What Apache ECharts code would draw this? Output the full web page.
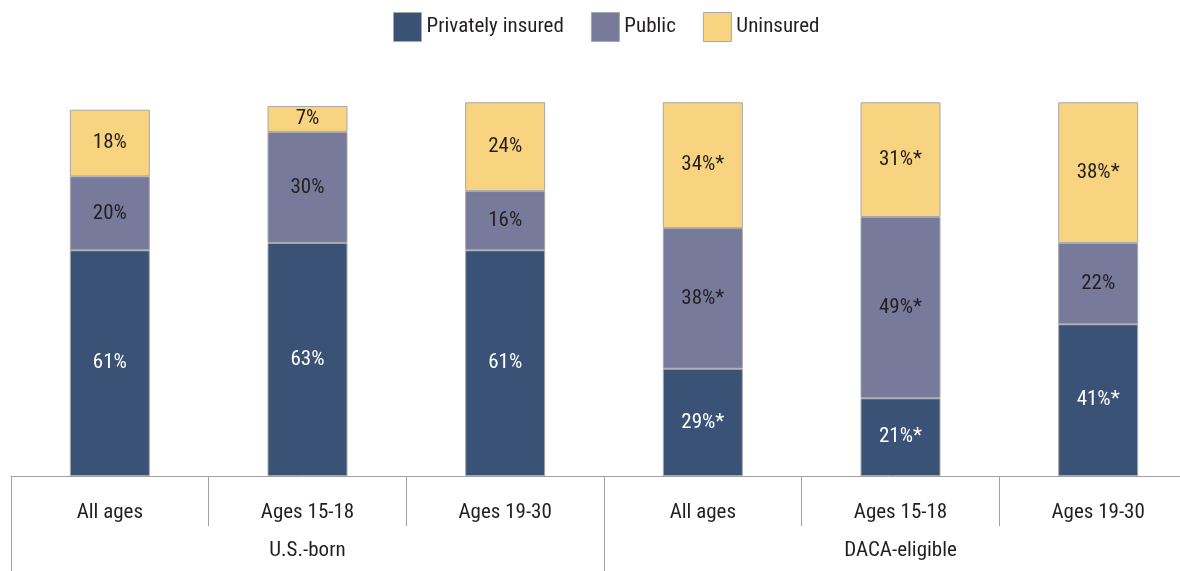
<!DOCTYPE html>
<html>
<head>
<meta charset="utf-8">
<script src="https://cdn.jsdelivr.net/npm/echarts@6/dist/echarts.min.js"></script>
<style>html,body{margin:0;padding:0;background:#fff}#c{width:1180px;height:571px}</style>
</head>
<body>
<div id="c"></div>
<script>
const categories = ['All ages', 'Ages 15-18', 'Ages 19-30', 'All ages', 'Ages 15-18', 'Ages 19-30'];
const groups = ['U.S.-born', 'DACA-eligible'];
const seriesNames = ['Privately insured', 'Public', 'Uninsured'];
const privateVals = [61, 63, 61, 29, 21, 41];
const publicVals = [20, 30, 16, 38, 49, 22];
const uninsuredVals = [18, 7, 24, 34, 31, 38];
const privateStar = [0, 0, 0, 1, 1, 1];
const publicStar = [0, 0, 0, 1, 1, 0];
const uninsuredStar = [0, 0, 0, 1, 1, 1];

const FONT = 'Roboto';
const STRETCH = 'condensed';
const colors = ['#3b5277', '#777a9a', '#f8d480'];
const textDark = '#231f20';

function mk(name, vals, stars, color, labelColor) {
  return {
    name: name,
    type: 'bar',
    stack: 'total',
    xAxisIndex: 0,
    barWidth: 80,
    data: vals,
    itemStyle: { color: color, borderColor: '#a8a8a8', borderWidth: 1 },
    label: {
      show: true,
      position: 'inside',
      color: labelColor,
      fontFamily: FONT,
      fontStyle: 'normal',
      fontWeight: STRETCH,
      fontSize: 21,
      formatter: p => p.value + '%' + (stars[p.dataIndex] ? '*' : '')
    },
    emphasis: { disabled: true },
    animation: false
  };
}

const txt = (size) => ({ fontFamily: FONT, fontStyle: 'normal', fontWeight: STRETCH, fontSize: size, color: textDark });

const chart = echarts.init(document.getElementById('c'), null, { renderer: 'canvas' });
chart.setOption({
  animation: false,
  color: colors,
  legend: {
    top: 7,
    left: 388,
    itemWidth: 28,
    itemHeight: 29,
    itemGap: 27,
    data: seriesNames.map(n => ({ name: n, icon: 'rect' })),
    itemStyle: { borderColor: '#a8a8a8', borderWidth: 1 },
    textStyle: Object.assign(txt(21), { padding: [0, 0, 0, 0] }),
    selectedMode: false
  },
  grid: { left: 11, width: 1186, bottom: 95, top: 69, outerBoundsMode: 'none', containLabel: false },
  xAxis: [
    {
      type: 'category',
      data: categories,
      position: 'bottom',
      axisLine: { show: true, lineStyle: { color: '#a0a0a0', width: 1 } },
      axisTick: { show: true, length: 50, lineStyle: { color: '#a0a0a0' } },
      axisLabel: Object.assign(txt(21), { margin: 26 })
    },
    {
      type: 'category',
      data: groups,
      position: 'bottom',
      axisLine: { show: false },
      axisTick: { show: true, length: 95, lineStyle: { color: '#a0a0a0' } },
      axisLabel: Object.assign(txt(21), { margin: 64 })
    }
  ],
  yAxis: { type: 'value', min: 0, max: 110, show: false, splitLine: { show: false } },
  series: [
    mk(seriesNames[0], privateVals, privateStar, colors[0], '#ffffff'),
    mk(seriesNames[1], publicVals, publicStar, colors[1], textDark),
    mk(seriesNames[2], uninsuredVals, uninsuredStar, colors[2], textDark)
  ]
});
</script>
</body>
</html>
